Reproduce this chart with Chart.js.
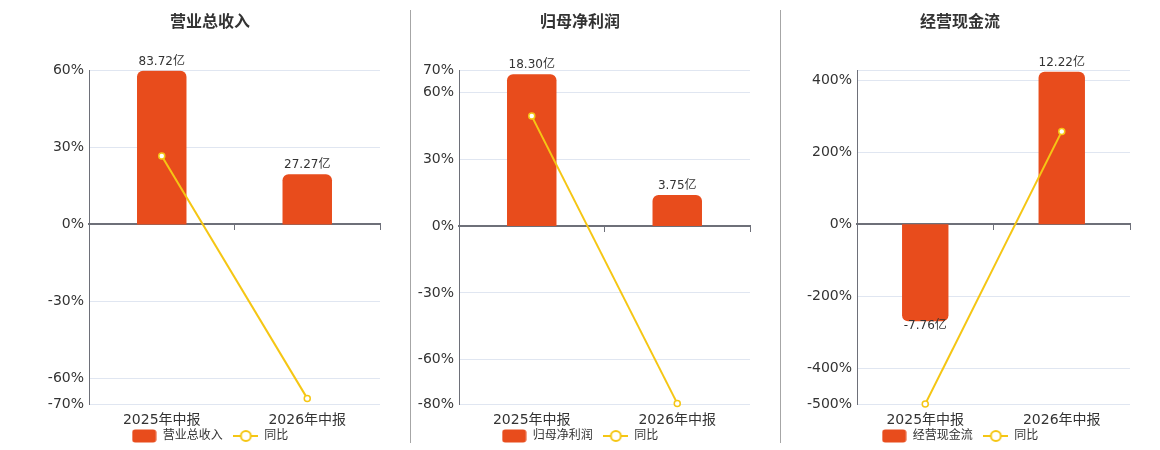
<!DOCTYPE html>
<html>
<head>
<meta charset="utf-8">
<script src="https://cdn.jsdelivr.net/npm/chart.js@4.4.1/dist/chart.umd.min.js"></script>
<style>
  html, body { margin: 0; padding: 0; background: #fff; overflow: hidden; }
  #wrap { position: relative; width: 1160px; height: 450px; overflow: hidden; }
  .panel { position: absolute; top: 0; height: 452px; }
  .sep { position: absolute; top: 10px; width: 1px; height: 433px; background: #a6a6a6; }
</style>
</head>
<body>
<div id="wrap">
  <div class="panel" style="left:40px;width:370px"><canvas id="c0"></canvas></div>
  <div class="panel" style="left:410px;width:370px"><canvas id="c1"></canvas></div>
  <div class="panel" style="left:780px;width:380px"><canvas id="c2"></canvas></div>
  <div class="sep" style="left:410px"></div>
  <div class="sep" style="left:780px"></div>
</div>
<script>
// data
const categories = ['2025年中报', '2026年中报'];
const titles = ['营业总收入', '归母净利润', '经营现金流'];
const yoyLabel = '同比';

const revenue = [83.72, 27.27];
const revenueYoy = [26.6, -67.7];
const netProfit = [18.30, 3.75];
const netProfitYoy = [49.4, -79.6];
const cashFlow = [-7.76, 12.22];
const cashFlowYoy = [-499, 258];

const revenueTicks = [-70, -60, -30, 0, 30, 60];
const netProfitTicks = [-80, -60, -30, 0, 30, 60, 70];
const cashFlowTicks = [-500, -400, -200, 0, 200, 400];

const barColor = '#e84c1c';
const lineColor = '#f5c614';
const axisColor = '#6e7079';
const gridColor = '#e0e6f1';
const textColor = '#333';

Chart.defaults.font.family = '"DejaVu Sans", "Noto Sans CJK SC", sans-serif';
Chart.defaults.color = textColor;

const panels = [
  { title: titles[0], bars: revenue, yoy: revenueYoy, ticks: revenueTicks, min: -70, max: 60, barMax: 84.0, yWidth: 49, padLeft: 0 },
  { title: titles[1], bars: netProfit, yoy: netProfitYoy, ticks: netProfitTicks, min: -80, max: 70, barMax: 18.78, yWidth: 49, padLeft: 0 },
  { title: titles[2], bars: cashFlow, yoy: cashFlowYoy, ticks: cashFlowTicks, min: -500, max: 428, barMax: 12.34, yWidth: 67, padLeft: 10 }
];

function barIcon() {
  const c = document.createElement('canvas');
  c.width = 25; c.height = 14;
  const g = c.getContext('2d');
  g.fillStyle = barColor;
  g.beginPath();
  g.roundRect(0.5, 0.5, 24, 13, 3);
  g.fill();
  return c;
}

function lineIcon() {
  const c = document.createElement('canvas');
  c.width = 25; c.height = 14;
  const g = c.getContext('2d');
  g.strokeStyle = lineColor;
  g.lineWidth = 2;
  g.beginPath();
  g.moveTo(0, 7);
  g.lineTo(25, 7);
  g.stroke();
  g.beginPath();
  g.arc(12.5, 7, 5, 0, Math.PI * 2);
  g.fillStyle = '#fff';
  g.fill();
  g.stroke();
  return c;
}

const icons = [barIcon(), lineIcon()];

// value labels above / below the bars
const barLabels = {
  id: 'barLabels',
  afterDatasetsDraw(chart) {
    const meta = chart.getDatasetMeta(0);
    const values = chart.data.datasets[0].data;
    const ctx = chart.ctx;
    ctx.save();
    ctx.font = '12px "DejaVu Sans", "Noto Sans CJK SC", sans-serif';
    ctx.fillStyle = textColor;
    ctx.textAlign = 'center';
    meta.data.forEach((bar, i) => {
      const v = values[i];
      const text = v.toFixed(2) + '亿';
      if (v >= 0) {
        ctx.textBaseline = 'bottom';
        ctx.fillText(text, bar.x, bar.y - 3);
      } else {
        ctx.textBaseline = 'top';
        ctx.fillText(text, bar.x, bar.y - 1);
      }
    });
    ctx.restore();
  }
};

function buildChart(id, p) {
  return new Chart(document.getElementById(id), {
    data: {
      labels: categories,
      datasets: [
        {
          type: 'bar',
          label: p.title,
          data: p.bars,
          backgroundColor: barColor,
          borderRadius: 6,
          barPercentage: 0.34,
          categoryPercentage: 1,
          xAxisID: 'x',
          yAxisID: 'yBar',
          order: 1
        },
        {
          type: 'line',
          label: yoyLabel,
          data: p.yoy,
          borderColor: lineColor,
          borderWidth: 2,
          pointRadius: 3,
          pointBorderWidth: 1.5,
          pointBackgroundColor: '#fff',
          pointBorderColor: lineColor,
          clip: false,
          xAxisID: 'x',
          yAxisID: 'y',
          order: 0
        }
      ]
    },
    options: {
      responsive: true,
      maintainAspectRatio: false,
      animation: false,
      layout: { padding: { left: p.padLeft, right: 30, top: 0, bottom: 0 } },
      scales: {
        x: {
          type: 'category',
          offset: true,
          grid: { display: false, drawTicks: false },
          border: { display: false },
          ticks: { padding: 7.5, maxRotation: 0, font: { size: 14 }, color: textColor },
          afterFit: (scale) => { scale.height = 22.7; }
        },
        x0: {
          type: 'category',
          axis: 'x',
          position: { y: 0 },
          offset: true,
          grid: { drawOnChartArea: false, offset: true, tickLength: 5, color: axisColor },
          border: { color: axisColor, width: 2 },
          ticks: { display: false }
        },
        y: {
          type: 'linear',
          position: 'left',
          min: p.min,
          max: p.max,
          afterBuildTicks: (scale) => {
            const vals = p.ticks.slice();
            if (!vals.includes(scale.max)) vals.push(scale.max);
            scale.ticks = vals.sort((a, b) => a - b).map((v) => ({ value: v }));
          },
          afterFit: (scale) => { scale.width = p.yWidth; },
          grid: {
            drawTicks: false,
            color: (ctx) => (ctx.tick && ctx.tick.value === 0 ? axisColor : gridColor)
          },
          border: { color: axisColor, width: 1 },
          ticks: {
            padding: 5,
            font: { size: 14 },
            color: textColor,
            callback: (v) => (p.ticks.includes(v) ? v + '%' : '')
          }
        },
        yBar: {
          type: 'linear',
          axis: 'y',
          display: false,
          min: p.barMax * p.min / p.max,
          max: p.barMax
        }
      },
      plugins: {
        title: {
          display: true,
          text: p.title,
          color: textColor,
          font: { size: 16, weight: 'bold' },
          padding: { top: 13, bottom: 38 }
        },
        legend: {
          display: true,
          position: 'bottom',
          labels: {
            usePointStyle: true,
            pointStyleWidth: 25,
            padding: 3,
            color: textColor,
            font: { size: 12 },
            // the first label carries two trailing spaces to widen the gap between the items
            generateLabels: (chart) => chart.data.datasets.map((ds, i) => ({
              text: i === 0 ? ds.label + '  ' : ds.label,
              pointStyle: icons[i],
              datasetIndex: i,
              hidden: !chart.isDatasetVisible(i),
              fontColor: textColor,
              lineWidth: 0,
              strokeStyle: 'transparent',
              fillStyle: 'transparent'
            }))
          }
        },
        tooltip: { enabled: false }
      }
    },
    plugins: [barLabels]
  });
}

panels.forEach((p, i) => buildChart('c' + i, p));
</script>
</body>
</html>
